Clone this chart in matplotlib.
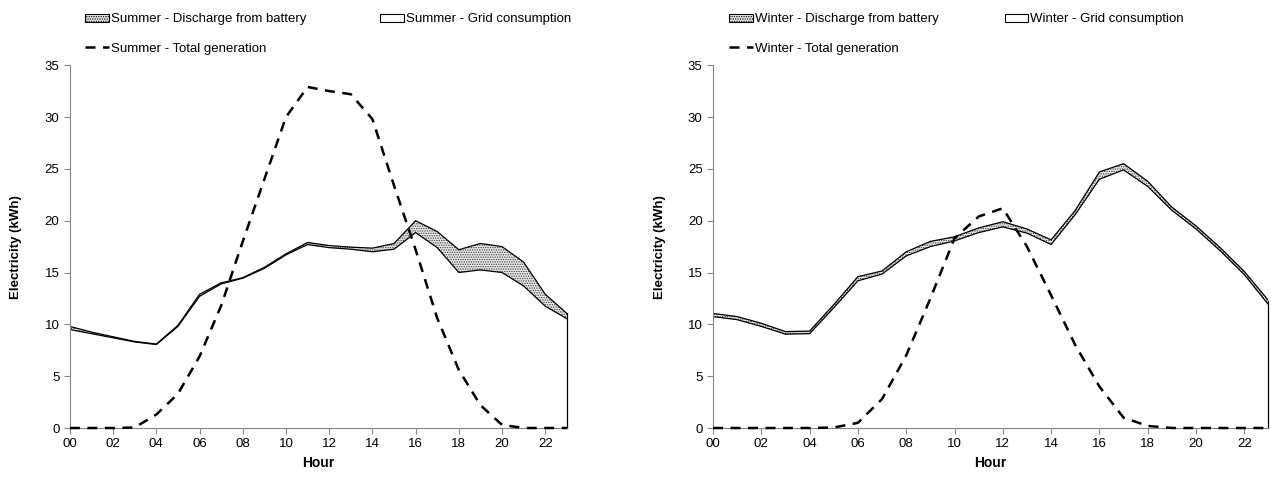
import matplotlib.pyplot as plt
import numpy as np

plt.rcParams['font.family'] = ['Liberation Sans', 'DejaVu Sans']
plt.rcParams['hatch.linewidth'] = 0.6

hours = list(range(24))
hour_labels = ['%02d' % h for h in range(0, 24, 2)]

# summer
summer_grid = [9.5, 9.1, 8.7, 8.3, 8.05, 9.8, 12.7, 13.9, 14.45, 15.4, 16.7, 17.7,
               17.4, 17.25, 17.0, 17.25, 18.85, 17.4, 15.0, 15.25, 15.0, 13.7, 11.75, 10.55]
summer_total = [9.8, 9.25, 8.8, 8.35, 8.1, 9.9, 12.9, 14.0, 14.5, 15.5, 16.8, 17.9,
                17.6, 17.45, 17.35, 17.8, 20.0, 18.95, 17.2, 17.8, 17.5, 16.0, 12.9, 11.05]
summer_gen = [0, 0, 0, 0.05, 1.3, 3.3, 6.9, 11.8, 18.0, 24.0, 30.0, 32.9,
              32.5, 32.2, 29.8, 23.4, 17.2, 10.6, 5.6, 2.2, 0.3, 0, 0, 0]

# winter
winter_grid = [10.75, 10.45, 9.8, 9.05, 9.1, 11.6, 14.2, 14.85, 16.6, 17.5, 18.05, 18.85,
               19.4, 18.8, 17.7, 20.6, 24.0, 24.9, 23.3, 21.0, 19.2, 17.1, 14.8, 11.9]
winter_total = [11.05, 10.75, 10.1, 9.3, 9.35, 11.9, 14.6, 15.15, 17.0, 18.0, 18.45, 19.3,
                19.9, 19.2, 18.15, 21.0, 24.7, 25.5, 23.8, 21.3, 19.5, 17.4, 15.1, 12.3]
winter_gen = [0, 0, 0, 0, 0, 0.05, 0.5, 2.8, 7.0, 12.5, 18.3, 20.4,
              21.2, 17.5, 12.8, 8.0, 4.0, 1.0, 0.2, 0, 0, 0, 0, 0]

fig = plt.figure(figsize=(12.71, 4.78), dpi=100)
ax1 = fig.add_axes([0.055, 0.1046, 0.391, 0.759])
ax2 = fig.add_axes([0.561, 0.1046, 0.437, 0.759])

for ax, season, grid, total, gen, colsp in [(ax1, 'Summer', summer_grid, summer_total, summer_gen, 5.6),
                                            (ax2, 'Winter', winter_grid, winter_total, winter_gen, 5.0)]:
    x = np.array(hours)
    ax.fill_between(x, 0, grid, facecolor='white', edgecolor='none', zorder=1)
    ax.fill_between(x, grid, total, facecolor='#e6e6e6', edgecolor='#3a3a3a',
                    hatch='.......', linewidth=0, zorder=1)
    ax.plot(x, grid, color='black', lw=0.9, zorder=2)
    ax.plot(x, total, color='black', lw=0.9, zorder=2)
    ax.plot([x[-1], x[-1]], [0, total[-1]], color='black', lw=0.9, zorder=2, clip_on=False)
    ax.plot(x, gen, color='black', lw=1.8, dashes=(4, 3), zorder=3, clip_on=False)

    ax.set_xlim(0, 23)
    ax.set_ylim(0, 35)
    ax.set_yticks(range(0, 36, 5))
    ax.set_xticks(range(0, 24, 2))
    ax.set_xticklabels(hour_labels)
    ax.spines['top'].set_visible(False)
    ax.spines['right'].set_visible(False)
    ax.spines['left'].set_color('#868686')
    ax.spines['bottom'].set_color('#868686')
    ax.tick_params(colors='#868686', labelcolor='black', labelsize=9.5, length=4)
    ax.set_xlabel('Hour', fontsize=10, fontweight='bold', labelpad=4)
    ax.set_ylabel('Electricity (kWh)', fontsize=9.5, fontweight='bold', labelpad=16)

    h_dis = plt.Rectangle((0, 0), 1, 1, facecolor='#e6e6e6', edgecolor='black',
                          hatch='.......', linewidth=0.8)
    h_grid = plt.Rectangle((0, 0), 1, 1, facecolor='white', edgecolor='black', linewidth=0.8)
    h_gen, = ax.plot([], [], color='black', lw=1.8, dashes=(4, 3))
    ax.legend([h_dis, h_gen, h_grid],
              [season + ' - Discharge from battery', season + ' - Total generation',
               season + ' - Grid consumption'],
              ncol=2, frameon=False, fontsize=9.5, loc='lower left',
              bbox_to_anchor=(0.01, 1.0), handlelength=1.8, handleheight=0.5,
              handletextpad=0.15, columnspacing=colsp, labelspacing=1.3,
              borderaxespad=0.4)

fig.savefig('out.png', dpi=100)
